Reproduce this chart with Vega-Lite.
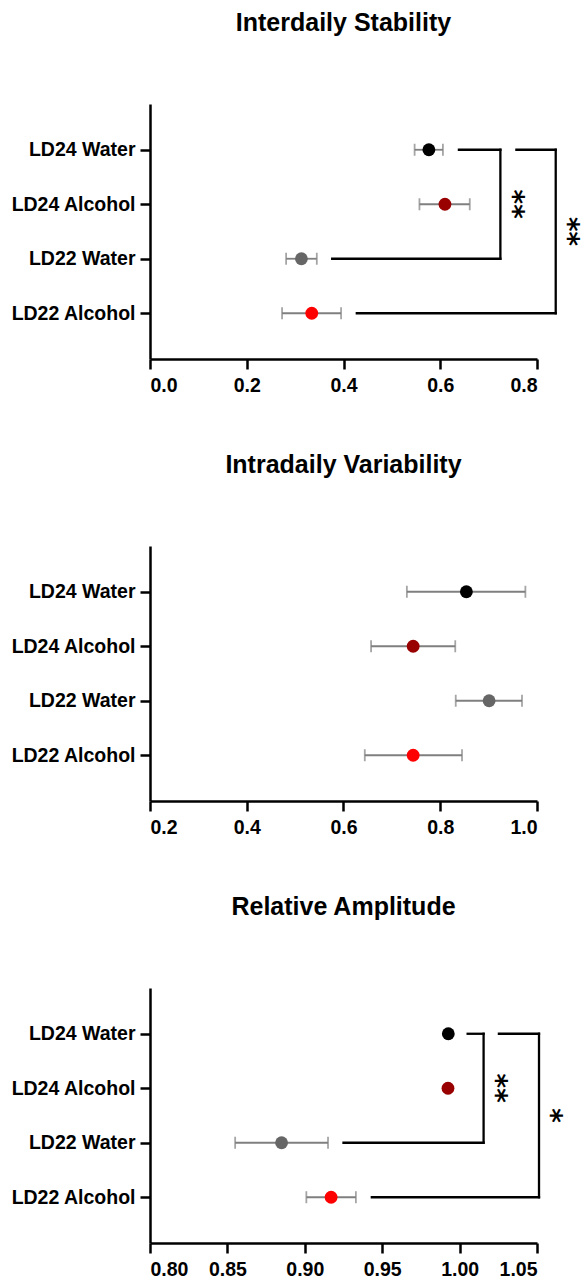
{
  "$schema": "https://vega.github.io/schema/vega-lite/v6.json",
  "padding": {"left": 10, "top": 11, "right": 0, "bottom": 5},
  "spacing": 58,
  "config": {
    "font": "Liberation Sans",
    "view": {"stroke": null},
    "title": {"font": "Liberation Sans", "fontSize": 25, "fontWeight": "bold", "color": "#000000", "anchor": "middle", "frame": "group", "offset": 68},
    "axis": {
      "labelFont": "Liberation Sans", "labelFontSize": 19.5, "labelFontWeight": "bold", "labelColor": "#000000",
      "domainColor": "#000000", "domainWidth": 2.5, "tickColor": "#000000", "tickWidth": 2.5, "tickSize": 10,
      "grid": false, "title": null
    },
    "axisX": {"labelPadding": 7},
    "axisY": {"labelPadding": 5}
  },
  "datasets": {
    "points": [
      {"panel": "IS", "group": "LD24 Water", "mean": 0.5765, "lo": 0.547, "hi": 0.6055},
      {"panel": "IS", "group": "LD24 Alcohol", "mean": 0.6097, "lo": 0.557, "hi": 0.661},
      {"panel": "IS", "group": "LD22 Water", "mean": 0.313, "lo": 0.2814, "hi": 0.3448},
      {"panel": "IS", "group": "LD22 Alcohol", "mean": 0.3344, "lo": 0.273, "hi": 0.395},
      {"panel": "IV", "group": "LD24 Water", "mean": 0.854, "lo": 0.731, "hi": 0.976},
      {"panel": "IV", "group": "LD24 Alcohol", "mean": 0.744, "lo": 0.657, "hi": 0.831},
      {"panel": "IV", "group": "LD22 Water", "mean": 0.901, "lo": 0.832, "hi": 0.969},
      {"panel": "IV", "group": "LD22 Alcohol", "mean": 0.744, "lo": 0.644, "hi": 0.845},
      {"panel": "RA", "group": "LD24 Water", "mean": 0.9927, "lo": 0.9917, "hi": 0.9937},
      {"panel": "RA", "group": "LD24 Alcohol", "mean": 0.9925, "lo": 0.9915, "hi": 0.9935},
      {"panel": "RA", "group": "LD22 Water", "mean": 0.885, "lo": 0.855, "hi": 0.915},
      {"panel": "RA", "group": "LD22 Alcohol", "mean": 0.917, "lo": 0.901, "hi": 0.933}
    ],
    "brackets": [
      {"panel": "IS", "g1": "LD24 Water", "g2": "LD24 Water", "x": 0.6386, "x2": 0.7243},
      {"panel": "IS", "g1": "LD24 Water", "g2": "LD22 Water", "x": 0.7243, "x2": 0.7243},
      {"panel": "IS", "g1": "LD22 Water", "g2": "LD22 Water", "x": 0.3766, "x2": 0.7243},
      {"panel": "IS", "g1": "LD24 Water", "g2": "LD24 Water", "x": 0.7574, "x2": 0.8387},
      {"panel": "IS", "g1": "LD24 Water", "g2": "LD22 Alcohol", "x": 0.8387, "x2": 0.8387},
      {"panel": "IS", "g1": "LD22 Alcohol", "g2": "LD22 Alcohol", "x": 0.4275, "x2": 0.8387},
      {"panel": "RA", "g1": "LD24 Water", "g2": "LD24 Water", "x": 1.0052, "x2": 1.0155},
      {"panel": "RA", "g1": "LD24 Water", "g2": "LD22 Water", "x": 1.0155, "x2": 1.0155},
      {"panel": "RA", "g1": "LD22 Water", "g2": "LD22 Water", "x": 0.925, "x2": 1.0155},
      {"panel": "RA", "g1": "LD24 Water", "g2": "LD24 Water", "x": 1.0254, "x2": 1.0513},
      {"panel": "RA", "g1": "LD24 Water", "g2": "LD22 Alcohol", "x": 1.0513, "x2": 1.0513},
      {"panel": "RA", "g1": "LD22 Alcohol", "g2": "LD22 Alcohol", "x": 0.9433, "x2": 1.0513}
    ],
    "stars": [
      {"panel": "IS", "label": "**", "x": 0.7607, "group": "LD24 Alcohol", "mid": false},
      {"panel": "IS", "label": "**", "x": 0.8745, "group": "LD24 Alcohol", "mid": true},
      {"panel": "RA", "label": "**", "x": 1.027, "group": "LD24 Alcohol", "mid": false},
      {"panel": "RA", "label": "*", "x": 1.0625, "group": "LD24 Alcohol", "mid": true}
    ]
  },
  "vconcat": [
    {
      "width": 387, "height": 255,
      "title": "Interdaily Stability",
      "layer": [
        {
          "data": {"name": "points"},
          "transform": [{"filter": "datum.panel === 'IS'"}],
          "mark": {"type": "rule", "color": "#7f7f7f", "strokeWidth": 1.8, "clip": false},
          "encoding": {
            "y": {"field": "group", "type": "nominal", "scale": {"type": "point", "domain": ["LD24 Water", "LD24 Alcohol", "LD22 Water", "LD22 Alcohol"], "padding": 0.84}, "axis": {}},
            "x": {"field": "lo", "type": "quantitative", "scale": {"domain": [0, 0.8], "nice": false, "zero": false}, "axis": {"values": [0, 0.2, 0.4, 0.6, 0.8], "format": ".1f"}},
            "x2": {"field": "hi"}
          }
        },
        {
          "data": {"name": "points"},
          "transform": [{"filter": "datum.panel === 'IS'"}],
          "mark": {"type": "tick", "color": "#7f7f7f", "thickness": 1.8, "size": 12, "clip": false},
          "encoding": {"y": {"field": "group", "type": "nominal"}, "x": {"field": "lo", "type": "quantitative"}}
        },
        {
          "data": {"name": "points"},
          "transform": [{"filter": "datum.panel === 'IS'"}],
          "mark": {"type": "tick", "color": "#7f7f7f", "thickness": 1.8, "size": 12, "clip": false},
          "encoding": {"y": {"field": "group", "type": "nominal"}, "x": {"field": "hi", "type": "quantitative"}}
        },
        {
          "data": {"name": "points"},
          "transform": [{"filter": "datum.panel === 'IS'"}],
          "mark": {"type": "circle", "size": 165, "opacity": 1, "clip": false},
          "encoding": {
            "y": {"field": "group", "type": "nominal"},
            "x": {"field": "mean", "type": "quantitative"},
            "color": {"field": "group", "type": "nominal", "scale": {"domain": ["LD24 Water", "LD24 Alcohol", "LD22 Water", "LD22 Alcohol"], "range": ["#000000", "#990000", "#666666", "#ff0000"]}, "legend": null}
          }
        },
        {
          "data": {"name": "brackets"},
          "transform": [{"filter": "datum.panel === 'IS'"}],
          "mark": {"type": "rule", "color": "#000000", "strokeWidth": 2.3, "strokeCap": "square", "clip": false},
          "encoding": {"y": {"field": "g1", "type": "nominal"}, "y2": {"field": "g2"}, "x": {"field": "x", "type": "quantitative"}, "x2": {"field": "x2"}}
        },
        {
          "data": {"name": "stars"},
          "transform": [{"filter": "datum.panel === 'IS' && !datum.mid"}],
          "mark": {"type": "text", "angle": 90, "fontSize": 28, "fontWeight": "bold", "font": "DejaVu Sans", "align": "center", "baseline": "middle", "dy": 6, "color": "#000000", "clip": false},
          "encoding": {"y": {"field": "group", "type": "nominal"}, "x": {"field": "x", "type": "quantitative"}, "text": {"field": "label"}}
        },
        {
          "data": {"name": "stars"},
          "transform": [{"filter": "datum.panel === 'IS' && datum.mid"}],
          "mark": {"type": "text", "angle": 90, "fontSize": 28, "fontWeight": "bold", "font": "DejaVu Sans", "align": "center", "baseline": "middle", "dy": 6, "dx": 27.3, "color": "#000000", "clip": false},
          "encoding": {"y": {"field": "group", "type": "nominal"}, "x": {"field": "x", "type": "quantitative"}, "text": {"field": "label"}}
        }
      ]
    },
    {
      "width": 387, "height": 255,
      "title": "Intradaily Variability",
      "layer": [
        {
          "data": {"name": "points"},
          "transform": [{"filter": "datum.panel === 'IV'"}],
          "mark": {"type": "rule", "color": "#7f7f7f", "strokeWidth": 1.8, "clip": false},
          "encoding": {
            "y": {"field": "group", "type": "nominal", "scale": {"type": "point", "domain": ["LD24 Water", "LD24 Alcohol", "LD22 Water", "LD22 Alcohol"], "padding": 0.84}, "axis": {}},
            "x": {"field": "lo", "type": "quantitative", "scale": {"domain": [0.2, 1.0], "nice": false, "zero": false}, "axis": {"values": [0.2, 0.4, 0.6, 0.8, 1.0], "format": ".1f"}},
            "x2": {"field": "hi"}
          }
        },
        {
          "data": {"name": "points"},
          "transform": [{"filter": "datum.panel === 'IV'"}],
          "mark": {"type": "tick", "color": "#7f7f7f", "thickness": 1.8, "size": 12, "clip": false},
          "encoding": {"y": {"field": "group", "type": "nominal"}, "x": {"field": "lo", "type": "quantitative"}}
        },
        {
          "data": {"name": "points"},
          "transform": [{"filter": "datum.panel === 'IV'"}],
          "mark": {"type": "tick", "color": "#7f7f7f", "thickness": 1.8, "size": 12, "clip": false},
          "encoding": {"y": {"field": "group", "type": "nominal"}, "x": {"field": "hi", "type": "quantitative"}}
        },
        {
          "data": {"name": "points"},
          "transform": [{"filter": "datum.panel === 'IV'"}],
          "mark": {"type": "circle", "size": 165, "opacity": 1, "clip": false},
          "encoding": {
            "y": {"field": "group", "type": "nominal"},
            "x": {"field": "mean", "type": "quantitative"},
            "color": {"field": "group", "type": "nominal", "scale": {"domain": ["LD24 Water", "LD24 Alcohol", "LD22 Water", "LD22 Alcohol"], "range": ["#000000", "#990000", "#666666", "#ff0000"]}, "legend": null}
          }
        }
      ]
    },
    {
      "width": 387, "height": 255,
      "title": "Relative Amplitude",
      "layer": [
        {
          "data": {"name": "points"},
          "transform": [{"filter": "datum.panel === 'RA'"}],
          "mark": {"type": "rule", "color": "#7f7f7f", "strokeWidth": 1.8, "clip": false},
          "encoding": {
            "y": {"field": "group", "type": "nominal", "scale": {"type": "point", "domain": ["LD24 Water", "LD24 Alcohol", "LD22 Water", "LD22 Alcohol"], "padding": 0.84}, "axis": {}},
            "x": {"field": "lo", "type": "quantitative", "scale": {"domain": [0.8, 1.05], "nice": false, "zero": false}, "axis": {"values": [0.8, 0.85, 0.9, 0.95, 1.0, 1.05], "format": ".2f"}},
            "x2": {"field": "hi"}
          }
        },
        {
          "data": {"name": "points"},
          "transform": [{"filter": "datum.panel === 'RA'"}],
          "mark": {"type": "tick", "color": "#7f7f7f", "thickness": 1.8, "size": 12, "clip": false},
          "encoding": {"y": {"field": "group", "type": "nominal"}, "x": {"field": "lo", "type": "quantitative"}}
        },
        {
          "data": {"name": "points"},
          "transform": [{"filter": "datum.panel === 'RA'"}],
          "mark": {"type": "tick", "color": "#7f7f7f", "thickness": 1.8, "size": 12, "clip": false},
          "encoding": {"y": {"field": "group", "type": "nominal"}, "x": {"field": "hi", "type": "quantitative"}}
        },
        {
          "data": {"name": "points"},
          "transform": [{"filter": "datum.panel === 'RA'"}],
          "mark": {"type": "circle", "size": 165, "opacity": 1, "clip": false},
          "encoding": {
            "y": {"field": "group", "type": "nominal"},
            "x": {"field": "mean", "type": "quantitative"},
            "color": {"field": "group", "type": "nominal", "scale": {"domain": ["LD24 Water", "LD24 Alcohol", "LD22 Water", "LD22 Alcohol"], "range": ["#000000", "#990000", "#666666", "#ff0000"]}, "legend": null}
          }
        },
        {
          "data": {"name": "brackets"},
          "transform": [{"filter": "datum.panel === 'RA'"}],
          "mark": {"type": "rule", "color": "#000000", "strokeWidth": 2.3, "strokeCap": "square", "clip": false},
          "encoding": {"y": {"field": "g1", "type": "nominal"}, "y2": {"field": "g2"}, "x": {"field": "x", "type": "quantitative"}, "x2": {"field": "x2"}}
        },
        {
          "data": {"name": "stars"},
          "transform": [{"filter": "datum.panel === 'RA' && !datum.mid"}],
          "mark": {"type": "text", "angle": 90, "fontSize": 28, "fontWeight": "bold", "font": "DejaVu Sans", "align": "center", "baseline": "middle", "dy": 6, "color": "#000000", "clip": false},
          "encoding": {"y": {"field": "group", "type": "nominal"}, "x": {"field": "x", "type": "quantitative"}, "text": {"field": "label"}}
        },
        {
          "data": {"name": "stars"},
          "transform": [{"filter": "datum.panel === 'RA' && datum.mid"}],
          "mark": {"type": "text", "angle": 90, "fontSize": 28, "fontWeight": "bold", "font": "DejaVu Sans", "align": "center", "baseline": "middle", "dy": 6, "dx": 27.3, "color": "#000000", "clip": false},
          "encoding": {"y": {"field": "group", "type": "nominal"}, "x": {"field": "x", "type": "quantitative"}, "text": {"field": "label"}}
        }
      ]
    }
  ]
}
